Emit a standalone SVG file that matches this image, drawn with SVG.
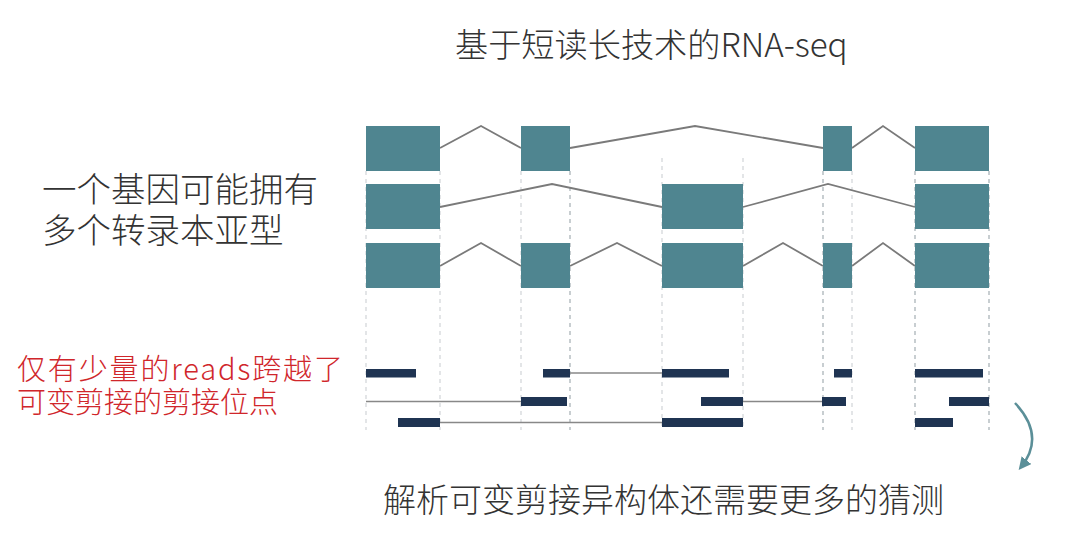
<svg xmlns="http://www.w3.org/2000/svg" width="1080" height="558" viewBox="0 0 1080 558">
<defs>
<style>
.t{font-family:"Noto Sans CJK SC","Noto Sans",sans-serif;fill:#333;font-weight:300}
.red{fill:#d0262b}
.ex{fill:#4f8590}
.rd{fill:#1f3452}
.in{fill:none;stroke:#7a7a7a;stroke-width:1.8}
.rl{fill:none;stroke:#888;stroke-width:1.6}
.dl{stroke:#d4d8da;stroke-width:1.3;stroke-dasharray:4 4}
.dd{stroke:#b7bfc2;stroke-width:1.5;stroke-dasharray:4 4}
</style>
<marker id="ah" viewBox="0 0 10 10" refX="7" refY="5" markerWidth="5" markerHeight="5" orient="auto">
<path d="M0,0 L10,5 L0,10 z" fill="#5b8f98"/>
</marker>
</defs>
<rect width="1080" height="558" fill="#fff"/>
<g id="title"><text class="t" x="455" y="57" font-size="33.2">基于短读长技术的RNA-seq</text></g>
<g id="label-left"><text class="t" font-size="34.5"><tspan x="42" y="202">一个基因可能拥有</tspan><tspan x="42" y="243">多个转录本亚型</tspan></text></g>
<g id="label-red"><text class="t red" font-size="29"><tspan x="17" y="380" textLength="326" lengthAdjust="spacing">仅有少量的reads跨越了</tspan><tspan x="17" y="413">可变剪接的剪接位点</tspan></text></g>
<g id="label-bottom"><text class="t" x="383" y="512" font-size="33">解析可变剪接异构体还需要更多的猜测</text></g>
<g id="guides">
<line class="dl" x1="366" y1="171" x2="366" y2="430"/>
<line class="dl" x1="440" y1="171" x2="440" y2="430"/>
<line class="dl" x1="521" y1="171" x2="521" y2="430"/>
<line class="dd" x1="570" y1="171" x2="570" y2="430"/>
<line class="dl" x1="662" y1="158" x2="662" y2="430"/>
<line class="dl" x1="743" y1="158" x2="743" y2="430"/>
<line class="dd" x1="823" y1="171" x2="823" y2="430"/>
<line class="dl" x1="852" y1="171" x2="852" y2="430"/>
<line class="dd" x1="915" y1="171" x2="915" y2="430"/>
<line class="dd" x1="989" y1="171" x2="989" y2="430"/>
</g>
<g id="connectors">
<polyline class="in" points="440,148 481,126 521,148"/>
<polyline class="in" points="570,148 695,126 823,148"/>
<polyline class="in" points="852,148 883,126 915,148"/>
<polyline class="in" points="440,207 552,184 662,207"/>
<polyline class="in" points="743,207 828,184 915,207"/>
<polyline class="in" points="440,266 481,243 521,266"/>
<polyline class="in" points="570,266 617,243 662,266"/>
<polyline class="in" points="743,266 783,243 823,266"/>
<polyline class="in" points="852,266 883,243 915,266"/>
<line class="rl" x1="570" y1="373" x2="662" y2="373"/>
<line class="rl" x1="366" y1="401.5" x2="521" y2="401.5"/>
<line class="rl" x1="743" y1="401.5" x2="822" y2="401.5"/>
<line class="rl" x1="440" y1="422.5" x2="662" y2="422.5"/>
<path d="M1015,403 Q1046,436 1021,467" fill="none" stroke="#5b8f98" stroke-width="2.5" marker-end="url(#ah)"/>
</g>
<g id="isoform1">
<rect class="ex" x="366" y="126" width="74" height="45"/>
<rect class="ex" x="521" y="126" width="49" height="45"/>
<rect class="ex" x="823" y="126" width="29" height="45"/>
<rect class="ex" x="915" y="126" width="74" height="45"/>
</g>
<g id="isoform2">
<rect class="ex" x="366" y="184" width="74" height="45"/>
<rect class="ex" x="662" y="184" width="81" height="45"/>
<rect class="ex" x="915" y="184" width="74" height="45"/>
</g>
<g id="isoform3">
<rect class="ex" x="366" y="243" width="74" height="45"/>
<rect class="ex" x="521" y="243" width="49" height="45"/>
<rect class="ex" x="662" y="243" width="81" height="45"/>
<rect class="ex" x="823" y="243" width="29" height="45"/>
<rect class="ex" x="915" y="243" width="74" height="45"/>
</g>
<g id="reads">
<rect class="rd" x="366" y="369" width="50" height="8.5"/>
<rect class="rd" x="543" y="369" width="27" height="8.5"/>
<rect class="rd" x="662" y="369" width="67" height="8.5"/>
<rect class="rd" x="834" y="369" width="18" height="8.5"/>
<rect class="rd" x="915" y="369" width="68" height="8.5"/>
<rect class="rd" x="521" y="397" width="46" height="9"/>
<rect class="rd" x="701" y="397" width="42" height="9"/>
<rect class="rd" x="822" y="397" width="24" height="9"/>
<rect class="rd" x="949" y="397" width="40" height="9"/>
<rect class="rd" x="398" y="418" width="42" height="9"/>
<rect class="rd" x="662" y="418" width="81" height="9"/>
<rect class="rd" x="915" y="418" width="38" height="9"/>
</g>
</svg>
